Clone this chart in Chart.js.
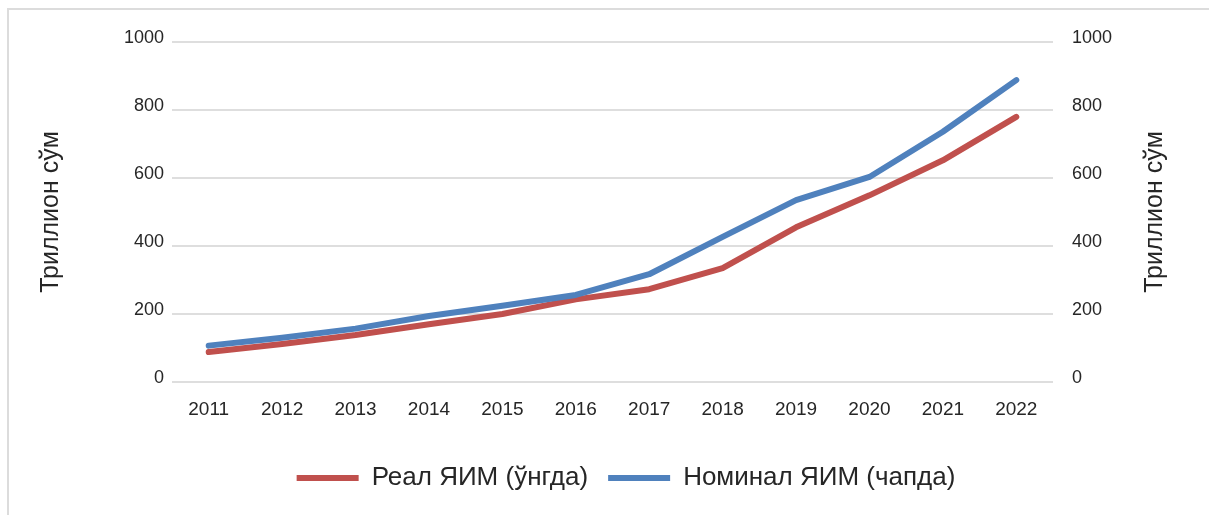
<!DOCTYPE html>
<html>
<head>
<meta charset="utf-8">
<script src="https://cdn.jsdelivr.net/npm/chart.js@4"></script>
<style>
  html, body { margin: 0; padding: 0; background: #fff; overflow: hidden; }
  #wrap { position: relative; width: 1209px; height: 515px; }
  #frame { position: absolute; left: 7px; top: 8px; width: 1300px; height: 600px; border: 2px solid #dcdcdc; }
  #myChart { position: absolute; left: 0; top: 0; }
</style>
</head>
<body>
<div id="wrap">
  <div id="frame"></div>
  <canvas id="myChart" width="1209" height="515"></canvas>
</div>
<script>
// Data
const years = ['2011', '2012', '2013', '2014', '2015', '2016', '2017', '2018', '2019', '2020', '2021', '2022']
const realGdp = [88, 112, 138, 170, 200, 243, 273, 335, 455, 549, 652, 780]
const nominalGdp = [107, 130, 157, 194, 224, 256, 317, 427, 535, 603, 736, 888]
const yTicks = [0, 200, 400, 600, 800, 1000]
const axisTitle = 'Триллион сўм'
const realLabel = 'Реал ЯИМ (ўнгда)'
const nominalLabel = 'Номинал ЯИМ (чапда)'

const textColor = '#262626'
const fontFamily = '"Liberation Sans", Arial, sans-serif'

// both axis titles read bottom to top
const axisTitles = {
  id: 'axisTitles',
  afterDraw(chart) {
    const ctx = chart.ctx
    const area = chart.chartArea
    const midY = (area.top + area.bottom) / 2
    const spots = [chart.scales.y.left + 8, chart.scales.y2.right - 54]
    ctx.save()
    ctx.fillStyle = textColor
    ctx.font = '25px ' + fontFamily
    ctx.textAlign = 'center'
    ctx.textBaseline = 'middle'
    spots.forEach((x) => {
      ctx.save()
      ctx.translate(x, midY)
      ctx.rotate(-Math.PI / 2)
      ctx.fillText(axisTitle, 0, 0)
      ctx.restore()
    })
    ctx.restore()
  },
}

const yTickOpts = {
  color: textColor,
  font: { size: 18, family: fontFamily },
  stepSize: 200,
  labelOffset: -4,
  callback: (v) => String(v),
}

const ctx = document.getElementById('myChart').getContext('2d')
const myChart = new Chart(ctx, {
  type: 'line',
  data: {
    labels: years,
    datasets: [
      {
        label: realLabel,
        data: realGdp,
        yAxisID: 'y2',
        borderColor: '#C0504D',
        backgroundColor: '#C0504D',
        borderWidth: 6,
        borderCapStyle: 'round',
        borderJoinStyle: 'round',
        pointRadius: 0,
        tension: 0,
        order: 2,
      },
      {
        label: nominalLabel,
        data: nominalGdp,
        yAxisID: 'y',
        borderColor: '#4F81BD',
        backgroundColor: '#4F81BD',
        borderWidth: 6,
        borderCapStyle: 'round',
        borderJoinStyle: 'round',
        pointRadius: 0,
        tension: 0,
        order: 1,
      },
    ],
  },
  options: {
    responsive: false,
    maintainAspectRatio: false,
    animation: false,
    devicePixelRatio: 1,
    layout: {
      padding: { left: 43, right: 0, top: 42, bottom: 14 },
    },
    plugins: {
      tooltip: { enabled: false },
      legend: {
        position: 'bottom',
        labels: {
          usePointStyle: true,
          pointStyle: 'line',
          pointStyleWidth: 62,
          boxHeight: 6,
          padding: 20,
          color: textColor,
          font: { size: 26, family: fontFamily },
          sort: (a, b) => a.datasetIndex - b.datasetIndex,
        },
      },
    },
    scales: {
      x: {
        offset: true,
        grid: { display: false, drawTicks: false },
        border: { display: false },
        ticks: {
          color: textColor,
          font: { size: 19, family: fontFamily },
          padding: 16,
          maxRotation: 0,
          autoSkip: false,
        },
        afterFit: (s) => { s.height = 63 },
      },
      y: {
        position: 'left',
        min: yTicks[0],
        max: yTicks[yTicks.length - 1],
        grid: { color: '#dedede', lineWidth: 2, drawTicks: false },
        border: { display: false },
        ticks: Object.assign({ padding: 8 }, yTickOpts),
        afterFit: (s) => { s.width = 129 },
      },
      y2: {
        position: 'right',
        min: yTicks[0],
        max: yTicks[yTicks.length - 1],
        grid: { display: false, drawTicks: false },
        border: { display: false },
        ticks: Object.assign({ padding: 19 }, yTickOpts),
        afterFit: (s) => { s.width = 156 },
      },
    },
  },
  plugins: [axisTitles],
})
</script>
</body>
</html>
